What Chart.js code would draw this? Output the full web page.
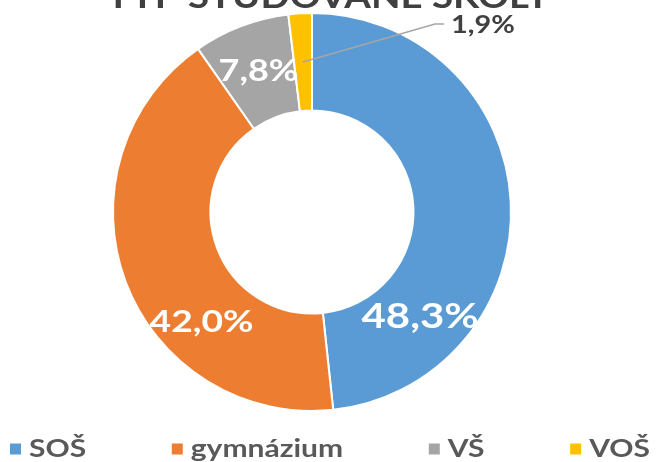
<!DOCTYPE html>
<html>
<head>
<meta charset="utf-8">
<script src="https://cdn.jsdelivr.net/npm/chart.js@4.4.1/dist/chart.umd.min.js"></script>
<style>
  html, body { margin: 0; padding: 0; background: #fff; }
  #wrap { width: 657px; height: 462px; position: relative; }
</style>
</head>
<body>
<div id="wrap"><canvas id="myChart"></canvas></div>
<script>
var chartTitle = 'TYP STUDOVANÉ ŠKOLY';
var categories = ['SOŠ', 'gymnázium', 'VŠ', 'VOŠ'];
var shares = [48.3, 42.0, 7.8, 1.9];
var colors = ['#5B9BD5', '#ED7D31', '#A5A5A5', '#FFC000'];

var STRETCH = 1.2; // the original text is a bit wider than Lato

function fmt(v) {
  return v.toFixed(1).replace('.', ',') + '%';
}

function wideText(ctx, text, x, y, align) {
  ctx.save();
  ctx.translate(x, y);
  ctx.scale(STRETCH, 1);
  ctx.textAlign = align;
  ctx.fillText(text, 0, 0);
  ctx.restore();
}

// title is cut off by the top edge in the original
var clippedTitle = {
  id: 'clippedTitle',
  afterDraw: function(chart, args, opts) {
    var ctx = chart.ctx;
    ctx.save();
    ctx.font = 'bold 32px Lato';
    ctx.fillStyle = '#404040';
    ctx.textBaseline = 'alphabetic';
    wideText(ctx, chartTitle, chart.width / 2, opts.baseline, 'center');
    ctx.restore();
  }
};

var sliceLabels = {
  id: 'sliceLabels',
  afterDatasetsDraw: function(chart, args, opts) {
    var ctx = chart.ctx;
    var meta = chart.getDatasetMeta(0);
    meta.data.forEach(function(arc, i) {
      var p = opts.place[i];
      var text = fmt(shares[i]);
      var angle = p.angle != null ? p.angle * Math.PI / 180 - Math.PI / 2 : (arc.startAngle + arc.endAngle) / 2;
      var r = (arc.innerRadius + arc.outerRadius) / 2 + (p.dr || 0);
      var x = arc.x + Math.cos(angle) * r;
      var y = arc.y + Math.sin(angle) * r;
      ctx.save();
      ctx.font = 'bold ' + p.size + 'px Lato';
      ctx.textBaseline = 'middle';
      if (p.outside) {
        var ex = arc.x + p.outside[0], ey = arc.y + p.outside[1];
        ctx.strokeStyle = '#A6A6A6';
        ctx.lineWidth = 1.5;
        ctx.beginPath();
        ctx.moveTo(x, y);
        ctx.lineTo(ex, ey);
        ctx.lineTo(ex + 9, ey);
        ctx.stroke();
        ctx.fillStyle = '#404040';
        wideText(ctx, text, ex + 16, ey + 1, 'left');
      } else {
        ctx.fillStyle = '#FFFFFF';
        wideText(ctx, text, x, y, 'center');
      }
      ctx.restore();
    });
  }
};

// legend spread across the bottom like the Excel one
var wideLegend = {
  id: 'wideLegend',
  afterDraw: function(chart, args, opts) {
    var ctx = chart.ctx;
    ctx.save();
    ctx.font = 'bold ' + opts.size + 'px Lato';
    ctx.textBaseline = 'middle';
    var box = 11, gapText = 8;
    var widths = categories.map(function(c) { return box + gapText + ctx.measureText(c).width * STRETCH; });
    var sum = widths.reduce(function(a, b) { return a + b; }, 0);
    var gap = (opts.right - opts.left - sum) / (categories.length - 1);
    var x = opts.left;
    categories.forEach(function(c, i) {
      ctx.fillStyle = colors[i];
      ctx.fillRect(x, opts.y - box / 2, box, box);
      ctx.fillStyle = '#595959';
      wideText(ctx, c, x + box + gapText, opts.y, 'left');
      x += widths[i] + gap;
    });
    ctx.restore();
  }
};

var ctx = document.getElementById('myChart');

var myChart = new Chart(ctx, {
  type: 'doughnut',
  data: {
    labels: categories,
    datasets: [{
      data: shares,
      backgroundColor: colors,
      borderColor: '#FFFFFF',
      borderWidth: 2
    }]
  },
  options: {
    responsive: true,
    maintainAspectRatio: false,
    animation: false,
    cutout: '51%',
    layout: {
      padding: { left: 112, right: 145, top: 12, bottom: 50 }
    },
    plugins: {
      legend: { display: false },
      tooltip: { enabled: false },
      clippedTitle: { baseline: 8 },
      sliceLabels: {
        place: [
          { angle: 134, dr: 0, size: 35 },
          { angle: 225, dr: 6, size: 31 },
          { size: 30 },
          { outside: [123, -188], size: 24 }
        ]
      },
      wideLegend: { left: 10, right: 650, y: 449, size: 25 }
    }
  },
  plugins: [clippedTitle, sliceLabels, wideLegend]
});
</script>
</body>
</html>
